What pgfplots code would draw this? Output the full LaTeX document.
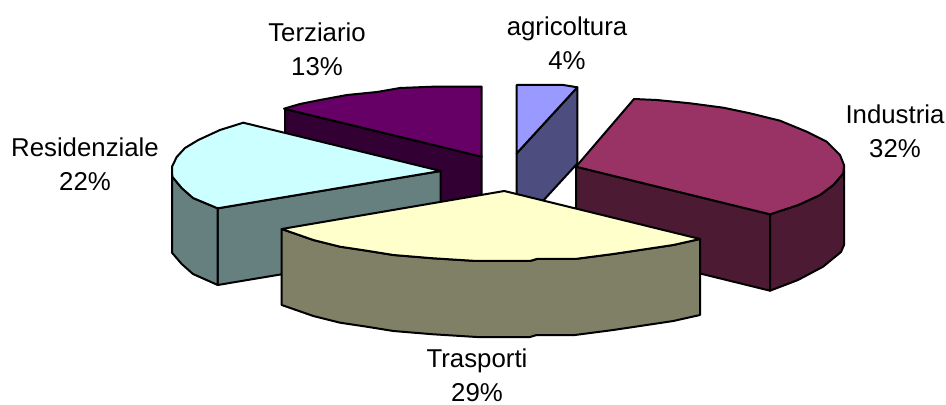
\documentclass[border=0pt]{standalone}
\usepackage{fontspec}
\setmainfont{Liberation Sans}
\usepackage{pgfplots}
\pgfplotsset{compat=1.18}
\definecolor{agritop}{HTML}{9999FF}
\definecolor{agriside}{HTML}{4D4D80}
\definecolor{indtop}{HTML}{993366}
\definecolor{indside}{HTML}{4D1A33}
\definecolor{trtop}{HTML}{FFFFCC}
\definecolor{trside}{HTML}{808066}
\definecolor{restop}{HTML}{CCFFFF}
\definecolor{resside}{HTML}{668080}
\definecolor{tertop}{HTML}{660066}
\definecolor{terside}{HTML}{330033}
\tikzset{lab/.style={font=\fontsize{12.9}{17.2}\selectfont, align=center, text=black, inner sep=0pt}}
\begin{document}
\begin{tikzpicture}
  \begin{axis}[
    scale only axis, width=473pt, height=202.5pt,
    xmin=0, xmax=946, ymin=0, ymax=405,
    y dir=reverse, hide axis, clip=false,
    every axis plot/.append style={draw=black, line width=1pt, line join=round},
    ]
    % keeps the page at the full frame
    \addplot[draw=none] coordinates {(0,0) (946,405)};
    % Terziario 13%
    \addplot[fill=terside] coordinates {(285,109) (481.7,156.7) (481.7,233) (285,186)} --cycle;
    \addplot[fill=tertop] coordinates {(481.7,156.7) (481.7,86.7) (433,86.7) (400,88) (377,92) (347,95) (320,100) (300,104) (284,108.7)} --cycle;
    % agricoltura 4%
    \addplot[fill=agriside] coordinates {(516.7,153.3) (577.3,87.3) (577.3,163.5) (516.7,229.5)} --cycle;
    \addplot[fill=agritop] coordinates {(516.7,153.3) (516.7,85) (563.3,85) (577.3,87.3)} --cycle;
    % Industria 32%
    \addplot[fill=indside] coordinates {(576,166.7) (770,214.3) (770,290.7) (576,243)} --cycle;
    \addplot[fill=indside] coordinates {(844,165) (844,245) (841,252) (823,266.7) (798,280) (770,290.7) (770,214.3) (798.3,205) (820,195) (833.3,185) (843.3,173.3)} --cycle;
    \addplot[fill=indtop] coordinates {(576,166.7) (634,99) (656.7,100) (690,103.3) (723.3,107.7) (750,113.3) (780,120.7) (806.7,131.7) (826.7,141.7) (840,155) (844,165) (843.3,173.3) (833.3,185) (820,195) (798.3,205) (770,214.3)} --cycle;
    % Residenziale 22%
    \addplot[fill=resside] coordinates {(217.7,208.3) (440.7,171) (440.7,247.7) (217.7,285)} --cycle;
    \addplot[fill=resside] coordinates {(172,170) (172,252.7) (181.7,264) (193,274) (217.7,285) (217.7,208.3) (193,198) (181.7,188) (172.3,176.7)} --cycle;
    \addplot[fill=restop] coordinates {(440.7,171) (243.3,122.7) (220,130) (198.3,140) (185,148) (176.7,157) (172,166.7) (172.3,176.7) (181.7,188) (193,198) (217.7,208.3)} --cycle;
    % Trasporti 29%
    \addplot[fill=trside] coordinates {(281.7,229) (313.3,240) (340,246.7) (366.7,250.7) (393.3,255) (433.3,258.3) (476.7,261) (530,261) (536.7,259) (575,259) (613.3,254) (646.7,249) (673.3,245) (700,239) (700,315) (673.3,321) (646.7,325) (613.3,330) (575,335) (536.7,335) (530,337) (476.7,337) (433.3,334.3) (393.3,331) (366.7,326.7) (340,322.7) (313.3,316) (281.7,305)} --cycle;
    \addplot[fill=trtop] coordinates {(504.3,191) (281.7,229) (313.3,240) (340,246.7) (366.7,250.7) (393.3,255) (433.3,258.3) (476.7,261) (530,261) (536.7,259) (575,259) (613.3,254) (646.7,249) (673.3,245) (700,239)} --cycle;
    % labels
    \node[lab] at (axis cs:317,49) {Terziario\\13\%};
    \node[lab] at (axis cs:567,43) {agricoltura\\4\%};
    \node[lab] at (axis cs:895,131) {Industria\\32\%};
    \node[lab] at (axis cs:85,164) {Residenziale\\22\%};
    \node[lab] at (axis cs:477,375.5) {Trasporti\\29\%};
  \end{axis}
\end{tikzpicture}
\end{document}
